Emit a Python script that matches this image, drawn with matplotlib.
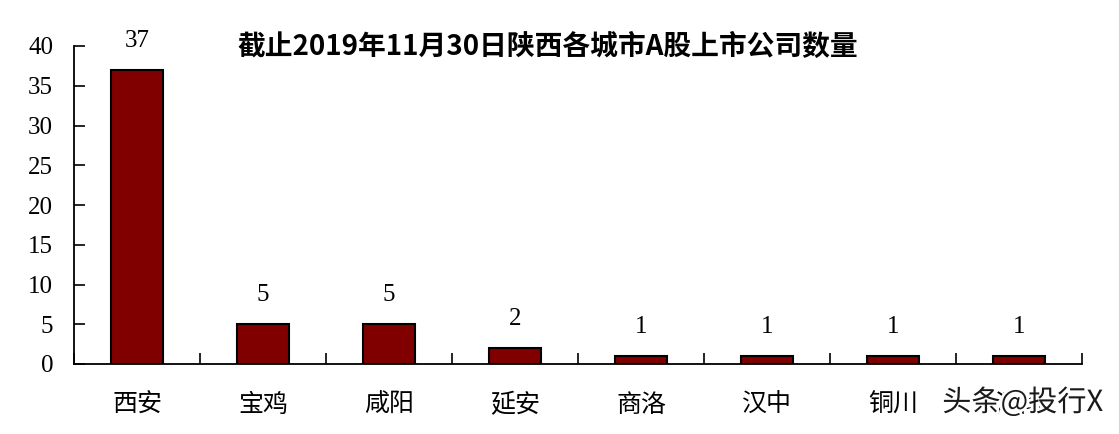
import matplotlib
matplotlib.use("Agg")
import matplotlib.pyplot as plt
import matplotlib.patheffects as pe
import numpy as np

categories = ["西安", "宝鸡", "咸阳", "延安", "商洛", "汉中", "铜川", "渭南"]
counts = [37, 5, 5, 2, 1, 1, 1, 1]
yticks = [0, 5, 10, 15, 20, 25, 30, 35, 40]
title = "截止2019年11月30日陕西各城市A股上市公司数量"

cjk = ["Noto Sans CJK SC", "DejaVu Sans"]
serif = ["Liberation Serif", "DejaVu Serif"]

fig = plt.figure(figsize=(11.19, 4.34), dpi=100)
ax = fig.add_axes([74/1119, 70/434, 1008/1119, 318/434])

x = np.arange(len(categories))
ax.bar(x, counts, width=0.41, color="#800000", edgecolor="black", linewidth=1.5, zorder=3)

for xi, v in zip(x, counts):
    ax.text(xi, v + 2.3, str(v), ha="center", va="bottom", fontsize=18, family=serif)

ax.set_xlim(-0.5, len(categories) - 0.5)
ax.set_ylim(0, 40)
ax.set_yticks(yticks)
ax.set_yticklabels([str(t) for t in yticks], fontsize=18, family=serif)
ax.tick_params(axis="y", direction="in", length=8, width=1.2, pad=15)

ax.set_xticks(x)
ax.set_xticklabels(categories, fontsize=18, family=cjk)
ax.tick_params(axis="x", which="major", length=0, pad=20)
ax.set_xticks(np.arange(len(categories) + 1) - 0.5, minor=True)
ax.tick_params(axis="x", which="minor", direction="in", length=8, width=1.2)

for s in ["top", "right"]:
    ax.spines[s].set_visible(False)
for s in ["left", "bottom"]:
    ax.spines[s].set_linewidth(1.3)

fig.text(548/1119, 1 - 47/434, title, ha="center", va="center", fontsize=20,
         fontweight="bold", family=cjk)

fig.text(1103/1119, 1 - 403/434, "头条@投行X", ha="right", va="center", fontsize=21,
         family=cjk, color="#1a1a1a", zorder=10,
         path_effects=[pe.withStroke(linewidth=4, foreground="white")])

fig.savefig("out.png", dpi=100)
